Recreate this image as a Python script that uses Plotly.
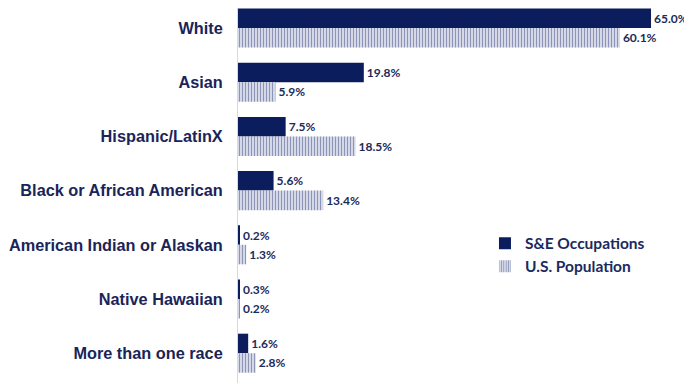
import plotly.graph_objects as go

categories = ["White", "Asian", "Hispanic/LatinX", "Black or African American",
              "American Indian or Alaskan", "Native Hawaiian", "More than one race"]
se_occupations = [65.0, 19.8, 7.5, 5.6, 0.2, 0.3, 1.6]
us_population = [60.1, 5.9, 18.5, 13.4, 1.3, 0.2, 2.8]

navy = "#0c1d5e"
textc = "#1b2a5c"
fam = "Lato"

fig = go.Figure()
fig.add_trace(go.Bar(
    y=categories, x=se_occupations, orientation="h", name="S&E Occupations",
    marker=dict(color=navy, line=dict(width=0)),
    text=[f"{v:.1f}%" for v in se_occupations], textposition="outside",
    textfont=dict(family=fam, size=12, color=textc, weight="bold"),
    cliponaxis=False,
))
fig.add_trace(go.Bar(
    y=categories, x=us_population, orientation="h", name="U.S. Population",
    marker=dict(color="#e4e6f0", line=dict(width=0),
                pattern=dict(shape="|", fgcolor="#34447e", bgcolor="#e4e6f0",
                             size=3, solidity=0.45)),
    text=[f"{v:.1f}%" for v in us_population], textposition="outside",
    textfont=dict(family=fam, size=12, color=textc, weight="bold"),
    cliponaxis=False,
))

# page body adds an 8px margin, so the figure is 8px smaller each way
fig.update_layout(
    width=684, height=375,
    margin=dict(l=230, r=0, t=0, b=0, autoexpand=False),
    barmode="group", bargap=0.28, bargroupgap=0,
    plot_bgcolor="white", paper_bgcolor="white",
    font=dict(family=fam, color=textc),
    legend=dict(x=0.544, y=0.417, xanchor="left", yanchor="top",
                font=dict(family=fam, size=15.5, color=textc, weight="bold"),
                bgcolor="rgba(0,0,0,0)", tracegroupgap=0, itemwidth=30),
    showlegend=True,
)
fig.update_xaxes(range=[0, 71.45], showgrid=False, showticklabels=False,
                 zeroline=False, showline=False, automargin=False)
fig.update_yaxes(range=[6.55, -0.37], showgrid=False, showline=True,
                 linecolor="#d9d9d9", linewidth=1, ticks="", ticklabelstandoff=11,
                 automargin=False,
                 tickfont=dict(family="Liberation Sans", size=16.3, color="#1a2458",
                               weight="bold"))

fig.write_html("out.html")
